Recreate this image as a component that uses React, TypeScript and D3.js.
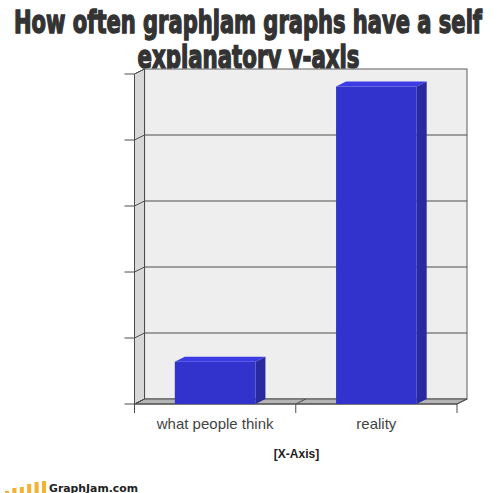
import * as d3 from "d3";

const categories = ["what people think", "reality"];
const values = [0.64, 4.81];
const yTicks = [0, 1, 2, 3, 4, 5];
const titleLines = ["How often graphjam graphs have a self", "explanatory y-axis"];
const logoBars = [2, 5, 6, 9, 11, 12];

const WIDTH = 500;
const HEIGHT = 493;
const DX = 10;
const DY = -5;
const LEFT = 134.5;
const RIGHT = 457;
const BOTTOM = 404;
const TOP = 74;

const LINE = "#4d4d4d";
const TITLE_SQUEEZE = 0.7;

export default function App() {
  const x = d3.scaleBand<string>().domain(categories).range([LEFT, RIGHT]).paddingInner(0.5).paddingOuter(0.25);
  const y = d3.scaleLinear().domain([0, 5]).range([BOTTOM, TOP]);
  const logoX = d3.scaleBand<number>().domain(d3.range(logoBars.length)).range([5, 46]).paddingInner(0.45);
  const logoH = d3.scaleLinear().domain([0, 12]).range([0, 12]);

  const tickEdges = [LEFT, (LEFT + RIGHT) / 2, RIGHT];

  return (
    <svg
      width={WIDTH}
      height={HEIGHT}
      style={{ position: "absolute", left: 0, top: 0, background: "#fff" }}
    >
      {/* title goes first, the wall hides the descenders of line two */}
      {titleLines.map((line, i) => (
        <text
          key={line}
          transform={`translate(${i === 0 ? 14 : 137.5},${i === 0 ? 33 : 68}) scale(${TITLE_SQUEEZE},1)`}
          textLength={(i === 0 ? 468 : 222) / TITLE_SQUEEZE}
          lengthAdjust="spacingAndGlyphs"
          fontFamily="DejaVu Sans Condensed, DejaVu Sans, sans-serif"
          fontSize={32}
          fontWeight="bold"
          fill="#333"
          stroke="#333"
          strokeWidth={1.4}
        >
          {line}
        </text>
      ))}

      {/* back wall */}
      <rect
        x={LEFT + DX}
        y={TOP + DY}
        width={RIGHT - LEFT}
        height={BOTTOM - TOP}
        fill="#eeeeee"
        stroke="#777"
        strokeWidth={1.2}
      />
      {/* side wall */}
      <polygon
        points={`${LEFT},${TOP} ${LEFT + DX},${TOP + DY} ${LEFT + DX},${BOTTOM + DY} ${LEFT},${BOTTOM}`}
        fill="#d8d8d8"
        stroke={LINE}
      />
      {/* floor */}
      <polygon
        points={`${LEFT},${BOTTOM} ${LEFT + DX},${BOTTOM + DY} ${RIGHT + DX},${BOTTOM + DY} ${RIGHT},${BOTTOM}`}
        fill="#b4b4b4"
        stroke={LINE}
      />

      {yTicks.map((t) => (
        <g key={t} stroke={LINE} fill="none" strokeWidth={1}>
          {t > 0 && t < 5 && (
            <line x1={LEFT + DX} x2={RIGHT + DX} y1={y(t) + DY} y2={y(t) + DY} />
          )}
          <polyline
            points={`${LEFT - 10},${y(t)} ${LEFT},${y(t)} ${LEFT + DX},${y(t) + DY}`}
          />
        </g>
      ))}

      {tickEdges.map((t) => (
        <g key={t} stroke={LINE} fill="none" strokeWidth={1}>
          <polyline points={`${t},${BOTTOM + 9} ${t},${BOTTOM} ${t + DX},${BOTTOM + DY}`} />
        </g>
      ))}
      <line x1={LEFT} x2={RIGHT} y1={BOTTOM} y2={BOTTOM} stroke={LINE} strokeWidth={1.2} />

      {categories.map((c, i) => {
        const x0 = x(c) ?? 0;
        const x1 = x0 + x.bandwidth();
        const top = y(values[i]);
        return (
          <g key={c}>
            <polygon
              points={`${x0},${top} ${x0 + DX},${top + DY} ${x1 + DX},${top + DY} ${x1},${top}`}
              fill="#3c3ce6"
            />
            <polygon
              points={`${x1},${top} ${x1 + DX},${top + DY} ${x1 + DX},${BOTTOM + DY} ${x1},${BOTTOM}`}
              fill="#2a2aa0"
            />
            <rect x={x0} y={top} width={x.bandwidth()} height={BOTTOM - top} fill="#3232cc" />
            <text
              x={x0 + x.bandwidth() / 2}
              y={429}
              textAnchor="middle"
              fontFamily="Liberation Sans, Arial, sans-serif"
              fontSize={15}
              fill="#444"
            >
              {c}
            </text>
          </g>
        );
      })}

      <text
        x={296.5}
        y={458}
        textAnchor="middle"
        fontFamily="Liberation Sans, Arial, sans-serif"
        fontSize={12}
        fontWeight="bold"
        fill="#222"
      >
        [X-Axis]
      </text>

      {logoBars.map((b, i) => (
        <rect
          key={i}
          x={logoX(i)}
          y={HEIGHT - logoH(b)}
          width={logoX.bandwidth()}
          height={logoH(b)}
          fill="#f2b233"
        />
      ))}
      <text
        x={49}
        y={491.5}
        fontFamily="DejaVu Sans, Verdana, sans-serif"
        fontSize={11}
        fontWeight="bold"
        fill="#222"
        textLength={89}
        lengthAdjust="spacingAndGlyphs"
      >
        GraphJam.com
      </text>
    </svg>
  );
}
